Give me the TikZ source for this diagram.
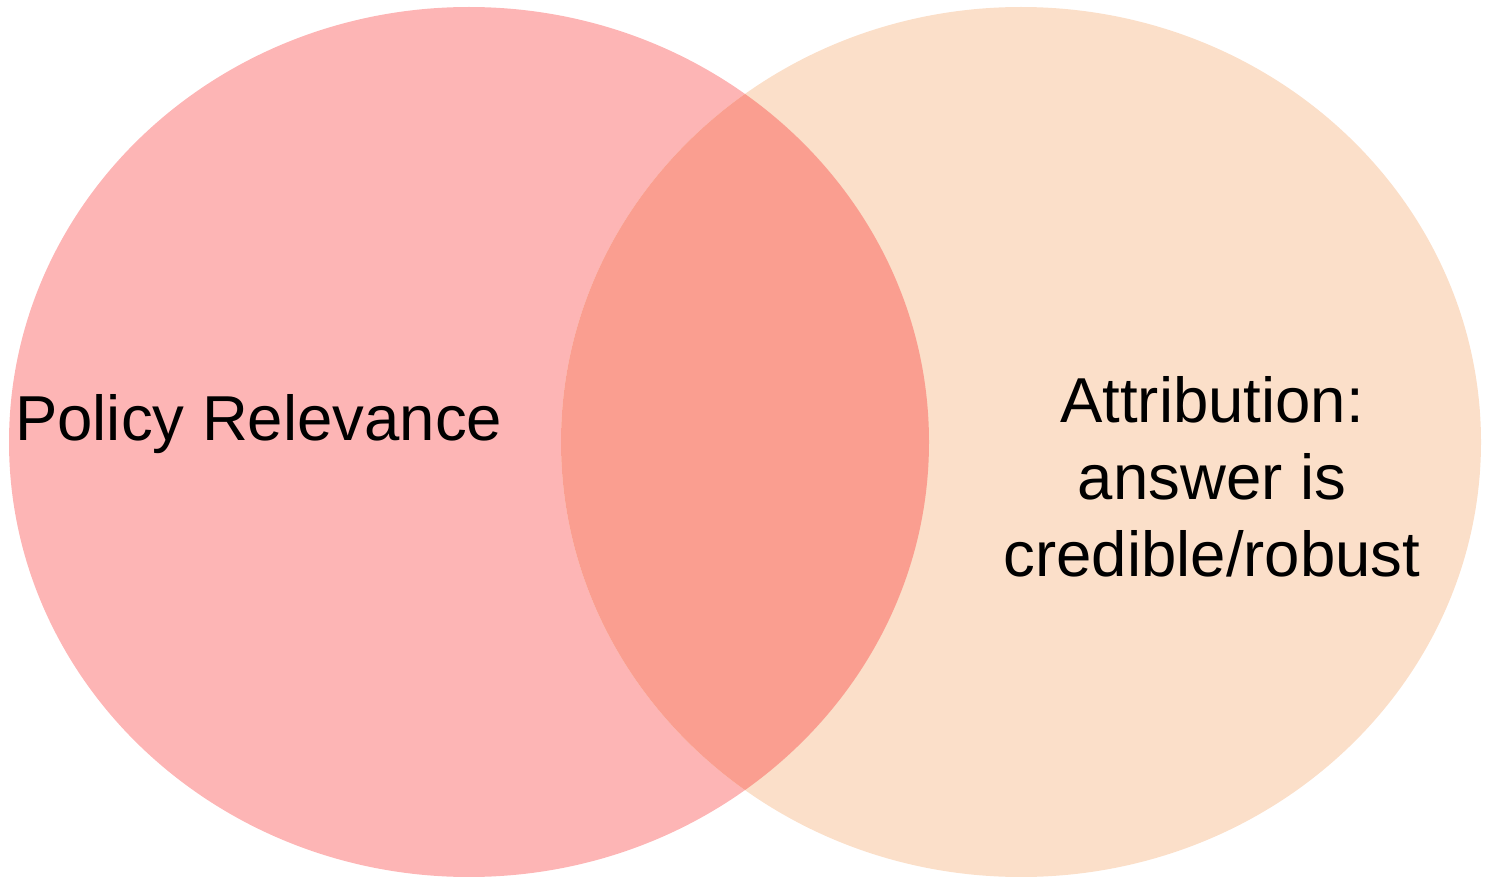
\documentclass[tikz,border=0pt]{standalone}
\usepackage{fontspec}
\setmainfont{Liberation Sans}
\definecolor{leftc}{HTML}{FDB5B5}
\definecolor{rightc}{HTML}{FBDFC9}
\definecolor{overc}{HTML}{FA9E90}
\begin{document}
\begin{tikzpicture}[x=1pt,y=1pt,
  lbl/.style={inner sep=0pt, font=\fontsize{63.5}{77}\selectfont, align=center}]
\useasboundingbox (0,0) rectangle (1488,-877);
\fill[leftc] (469,-442) ellipse [x radius=460, y radius=435];
\fill[rightc] (1021,-442) ellipse [x radius=460, y radius=435];
\begin{scope}
  \clip (469,-442) ellipse [x radius=460, y radius=435];
  \fill[overc] (1021,-442) ellipse [x radius=460, y radius=435];
\end{scope}
\node[lbl, anchor=base west] (pr) at (15,-440) {Policy Relevance};
\node[lbl, anchor=base] (at) at (1212,-576) {Attribution:\\answer is\\credible/robust};
\end{tikzpicture}
\end{document}
